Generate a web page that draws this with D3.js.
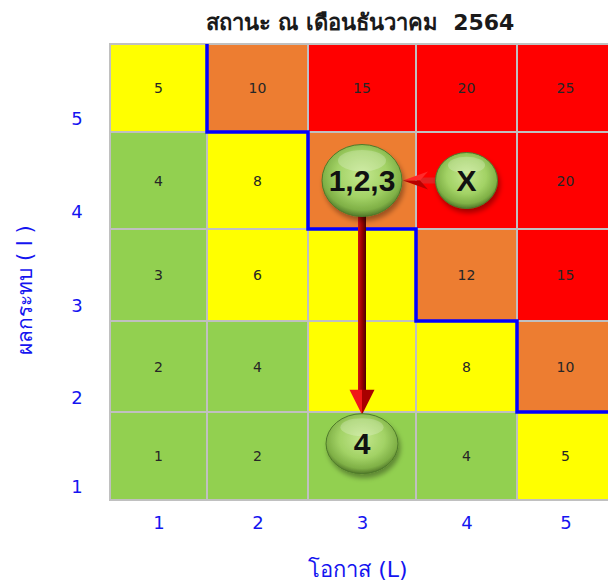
<!DOCTYPE html>
<html>
<head>
<meta charset="utf-8">
<script src="https://cdn.jsdelivr.net/npm/d3@7"></script>
<style>
body { margin: 0; background: #fff; }
svg { display: block; }
</style>
</head>
<body>
<div id="chart"></div>
<script>
// data
var likelihood = [1, 2, 3, 4, 5];
var impact = [1, 2, 3, 4, 5];
// risk level per cell, rows from impact 5 down to impact 1
var levelRows = [
	["M", "H", "E", "E", "E"],
	["L", "M", "H", "E", "E"],
	["L", "M", "M", "H", "E"],
	["L", "L", "M", "M", "H"],
	["L", "L", "L", "L", "M"]
];
var markers = [
	{ name: "1,2,3", l: 3, i: 4 },
	{ name: "X", l: 4, i: 4 },
	{ name: "4", l: 3, i: 1.14 }
];
var moves = [
	{ from: "X", to: "1,2,3" },
	{ from: "1,2,3", to: "4" }
];
var title = "สถานะ ณ เดือนธันวาคม  2564";
var xTitle = "โอกาส (L)";
var yTitle = "ผลกระทบ ( I )";

// styles
var levelColor = { L: "#92D050", M: "#FFFF00", H: "#ED7D31", E: "#FF0000" };
var markerSize = { "1,2,3": [40, 36], "X": [31, 28], "4": [36, 30] };
var blue = "#1414f0";

var totalWidth = 608, totalHeight = 583;

var x = d3.scaleLinear()
	.domain([0.5, 1.5, 2.5, 3.5, 4.5, 5.5])
	.range([110, 207, 308, 416, 517, 614]);
var y = d3.scaleLinear()
	.domain([0.5, 1.5, 2.5, 3.5, 4.5, 5.5])
	.range([500, 412, 321, 229, 132, 44]);

var svg = d3.select("#chart").append("svg")
	.attr("width", totalWidth)
	.attr("height", totalHeight);

var defs = svg.append("defs");

var bub = defs.append("radialGradient").attr("id", "bubble")
	.attr("cx", "50%").attr("cy", "42%").attr("r", "58%");
bub.append("stop").attr("offset", "0%").attr("stop-color", "#c4e78e");
bub.append("stop").attr("offset", "55%").attr("stop-color", "#a2d265");
bub.append("stop").attr("offset", "85%").attr("stop-color", "#7fb046");
bub.append("stop").attr("offset", "100%").attr("stop-color", "#52792a");

var shaftGrad = defs.append("linearGradient").attr("id", "shaft")
	.attr("x1", "0%").attr("x2", "100%").attr("y1", "0%").attr("y2", "0%");
shaftGrad.append("stop").attr("offset", "0%").attr("stop-color", "#d01414");
shaftGrad.append("stop").attr("offset", "50%").attr("stop-color", "#9a0000");
shaftGrad.append("stop").attr("offset", "100%").attr("stop-color", "#4a0000");

var shadow = defs.append("filter").attr("id", "shadow")
	.attr("x", "-30%").attr("y", "-30%").attr("width", "160%").attr("height", "170%");
shadow.append("feDropShadow")
	.attr("dx", 2).attr("dy", 4).attr("stdDeviation", 2.5)
	.attr("flood-color", "#000").attr("flood-opacity", 0.35);

// cells
var cells = [];
levelRows.forEach(function (row, r) {
	row.forEach(function (lv, c) {
		cells.push({ l: likelihood[c], i: impact[impact.length - 1 - r], level: lv });
	});
});

// cells hidden under a bubble get no number
function covered(d) {
	return markers.some(function (m) { return Math.round(m.l) === d.l && Math.round(m.i) === d.i; });
}

var cellGroup = svg.append("g").attr("id", "cells");
cellGroup.selectAll("rect")
	.data(cells)
	.enter()
	.append("rect")
	.attr("x", function (d) { return x(d.l - 0.5); })
	.attr("y", function (d) { return y(d.i + 0.5); })
	.attr("width", function (d) { return x(d.l + 0.5) - x(d.l - 0.5); })
	.attr("height", function (d) { return y(d.i - 0.5) - y(d.i + 0.5); })
	.attr("fill", function (d) { return levelColor[d.level]; })
	.attr("stroke", "#c0c0c0")
	.attr("stroke-width", 2);

cellGroup.selectAll("text")
	.data(cells.filter(function (d) { return !covered(d); }))
	.enter()
	.append("text")
	.attr("x", function (d) { return x(d.l); })
	.attr("y", function (d) { return y(d.i); })
	.attr("text-anchor", "middle")
	.attr("dominant-baseline", "central")
	.attr("font-family", "DejaVu Sans, sans-serif")
	.attr("font-size", "14px")
	.attr("fill", "#262626")
	.text(function (d) { return d.l * d.i; });

// blue boundary between low/medium and high/extreme
var firstHigh = impact.slice().reverse().map(function (iv, r) {
	var c = levelRows[r].findIndex(function (lv) { return lv === "H" || lv === "E"; });
	return { i: iv, l: c < 0 ? null : likelihood[c] };
}).filter(function (d) { return d.l !== null; });

var boundary = d3.path();
firstHigh.forEach(function (d, k) {
	if (k === 0) boundary.moveTo(x(d.l - 0.5), y(d.i + 0.5));
	else boundary.lineTo(x(d.l - 0.5), y(d.i + 0.5));
	boundary.lineTo(x(d.l - 0.5), y(d.i - 0.5));
});
boundary.lineTo(x(5.5), y(firstHigh[firstHigh.length - 1].i - 0.5));

svg.append("path")
	.attr("d", boundary.toString())
	.attr("fill", "none")
	.attr("stroke", "#0000ff")
	.attr("stroke-width", 3.5)
	.attr("stroke-linejoin", "miter");

// axes
var xAxis = d3.axisBottom(x).tickValues(likelihood).tickFormat(d3.format("d")).tickSize(0).tickPadding(16);
var yAxis = d3.axisLeft(y).tickValues(impact).tickFormat(d3.format("d")).tickSize(0).tickPadding(0);

var xAxisGroup = svg.append("g")
	.attr("transform", "translate(0," + y(0.5) + ")")
	.call(xAxis);
xAxisGroup.select(".domain").remove();
xAxisGroup.selectAll(".tick text")
	.attr("font-family", "DejaVu Sans, sans-serif")
	.attr("font-size", "18px")
	.attr("fill", blue);

var yAxisGroup = svg.append("g")
	.attr("transform", "translate(77,0)")
	.call(yAxis);
yAxisGroup.select(".domain").remove();
yAxisGroup.selectAll(".tick text")
	.attr("text-anchor", "middle")
	.attr("dy", "2.05em")
	.attr("font-family", "DejaVu Sans, sans-serif")
	.attr("font-size", "18px")
	.attr("fill", blue);

// titles
svg.append("text")
	.attr("x", 360)
	.attr("y", 30)
	.attr("text-anchor", "middle")
	.style("white-space", "pre")
	.attr("font-family", "Tahoma, DejaVu Sans, sans-serif")
	.attr("font-size", "22px")
	.attr("font-weight", "bold")
	.attr("fill", "#1a1a1a")
	.text(title);

svg.append("text")
	.attr("x", (x(0.5) + x(5.5)) / 2 - 4)
	.attr("y", 577)
	.attr("text-anchor", "middle")
	.attr("font-family", "Tahoma, DejaVu Sans, sans-serif")
	.attr("font-size", "22px")
	.attr("fill", blue)
	.text(xTitle);

svg.append("text")
	.attr("transform", "translate(32,290) rotate(-90)")
	.attr("text-anchor", "middle")
	.attr("font-family", "Tahoma, DejaVu Sans, sans-serif")
	.attr("font-size", "21px")
	.attr("fill", blue)
	.text(yTitle);

// movement arrows
var byName = {};
markers.forEach(function (m) { byName[m.name] = m; });

var arrowGroup = svg.append("g").attr("id", "arrows");
moves.forEach(function (mv) {
	var a = byName[mv.from], b = byName[mv.to];
	var ax = x(a.l), ay = y(a.i), bx = x(b.l), by = y(b.i);
	if (Math.abs(ay - by) < 1) {
		// horizontal, pointing left
		var sx = ax - markerSize[a.name][0] + 2;
		var tip = bx + markerSize[b.name][0] + 1;
		var back = tip + 25, notch = tip + 17, cy = by;
		arrowGroup.append("rect")
			.attr("x", notch).attr("y", cy - 3)
			.attr("width", sx - notch).attr("height", 6)
			.attr("fill", "#e42222");
		arrowGroup.append("path")
			.attr("d", "M" + tip + "," + cy + "L" + back + "," + (cy - 9) + "L" + notch + "," + cy + "Z")
			.attr("fill", "#ff2a2a");
		arrowGroup.append("path")
			.attr("d", "M" + tip + "," + cy + "L" + back + "," + (cy + 9) + "L" + notch + "," + cy + "Z")
			.attr("fill", "#b80000");
	} else {
		// vertical, pointing down
		var sy = ay + markerSize[a.name][1] - 2;
		var tipY = by - markerSize[b.name][1] + 1;
		var headTop = tipY - 25;
		arrowGroup.append("rect")
			.attr("x", ax - 4).attr("y", sy)
			.attr("width", 8).attr("height", headTop - sy + 1)
			.attr("fill", "url(#shaft)");
		arrowGroup.append("path")
			.attr("d", "M" + (ax - 12.5) + "," + headTop + "L" + ax + "," + headTop + "L" + ax + "," + tipY + "Z")
			.attr("fill", "#f01818");
		arrowGroup.append("path")
			.attr("d", "M" + ax + "," + headTop + "L" + (ax + 12.5) + "," + headTop + "L" + ax + "," + tipY + "Z")
			.attr("fill", "#a80000");
	}
});

// bubbles
var bubbleGroup = svg.append("g").attr("id", "bubbles")
	.selectAll("g")
	.data(markers)
	.enter()
	.append("g")
	.attr("transform", function (d) { return "translate(" + x(d.l) + "," + y(d.i) + ")"; });

bubbleGroup.append("ellipse")
	.attr("rx", function (d) { return markerSize[d.name][0]; })
	.attr("ry", function (d) { return markerSize[d.name][1]; })
	.attr("fill", "url(#bubble)")
	.attr("stroke", "#4f7a2a")
	.attr("stroke-width", 1)
	.attr("filter", "url(#shadow)");

bubbleGroup.append("ellipse")
	.attr("cy", function (d) { return -markerSize[d.name][1] * 0.55; })
	.attr("rx", function (d) { return markerSize[d.name][0] * 0.6; })
	.attr("ry", function (d) { return markerSize[d.name][1] * 0.3; })
	.attr("fill", "#ffffff")
	.attr("opacity", 0.22);

bubbleGroup.append("text")
	.attr("text-anchor", "middle")
	.attr("dominant-baseline", "central")
	.attr("font-family", "Liberation Sans, Arial, sans-serif")
	.attr("font-weight", "bold")
	.attr("font-size", "30px")
	.attr("fill", "#111")
	.text(function (d) { return d.name; });
</script>
</body>
</html>
